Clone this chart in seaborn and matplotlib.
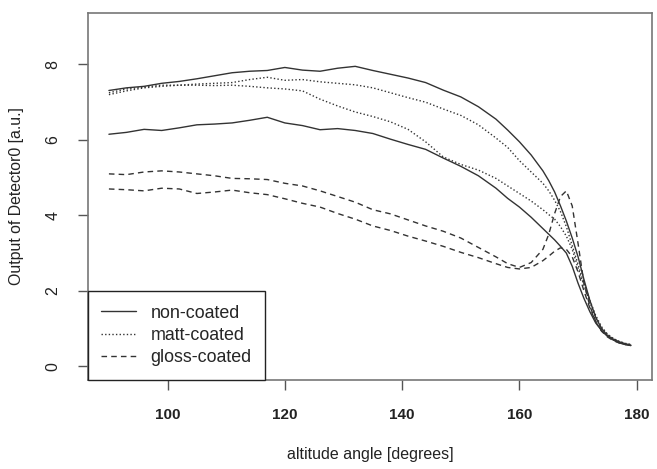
import matplotlib
matplotlib.use("Agg")
import matplotlib.pyplot as plt
from matplotlib.lines import Line2D
import seaborn as sns
import pandas as pd

angles = [90, 93, 96, 99, 102, 105, 108, 111, 114, 117, 120, 123, 126, 129, 132, 135,
          138, 141, 144, 147, 150, 153, 156, 158, 160, 162, 164, 165, 166, 167, 168,
          169, 170, 171, 172, 173, 174, 175, 176, 177, 178, 179]

non_coated_1 = [7.31, 7.38, 7.42, 7.50, 7.55, 7.62, 7.70, 7.78, 7.82, 7.84, 7.92, 7.85, 7.82, 7.90, 7.95, 7.84,
                7.74, 7.64, 7.52, 7.32, 7.14, 6.88, 6.55, 6.26, 5.95, 5.60, 5.18, 4.92, 4.62, 4.25, 3.85,
                3.40, 2.90, 2.30, 1.75, 1.30, 1.00, 0.82, 0.72, 0.65, 0.60, 0.56]
non_coated_2 = [6.15, 6.20, 6.28, 6.25, 6.32, 6.40, 6.42, 6.45, 6.52, 6.60, 6.45, 6.38, 6.27, 6.30, 6.25, 6.17,
                6.02, 5.88, 5.75, 5.52, 5.30, 5.05, 4.72, 4.45, 4.22, 3.95, 3.65, 3.50, 3.35, 3.18, 3.00,
                2.65, 2.20, 1.80, 1.45, 1.15, 0.95, 0.80, 0.70, 0.62, 0.58, 0.55]
matt_coated_1 = [7.25, 7.35, 7.40, 7.45, 7.45, 7.48, 7.50, 7.52, 7.60, 7.66, 7.58, 7.60, 7.54, 7.50, 7.46, 7.38,
                 7.25, 7.12, 7.00, 6.82, 6.65, 6.40, 6.05, 5.80, 5.45, 5.15, 4.85, 4.65, 4.40, 4.10, 3.70,
                 3.20, 2.70, 2.20, 1.75, 1.35, 1.05, 0.85, 0.73, 0.66, 0.60, 0.57]
matt_coated_2 = [7.20, 7.30, 7.38, 7.42, 7.45, 7.45, 7.44, 7.45, 7.42, 7.38, 7.35, 7.30, 7.08, 6.90, 6.74, 6.62,
                 6.48, 6.28, 5.95, 5.55, 5.35, 5.20, 4.98, 4.78, 4.58, 4.38, 4.15, 4.02, 3.90, 3.70, 3.45,
                 3.10, 2.60, 2.15, 1.70, 1.30, 1.02, 0.85, 0.74, 0.66, 0.61, 0.58]
gloss_coated_1 = [5.10, 5.08, 5.15, 5.18, 5.15, 5.10, 5.05, 4.98, 4.97, 4.95, 4.85, 4.78, 4.65, 4.50, 4.35, 4.15,
                  4.04, 3.88, 3.72, 3.58, 3.40, 3.15, 2.90, 2.72, 2.62, 2.75, 3.10, 3.50, 4.05, 4.50, 4.65,
                  4.25, 3.25, 2.20, 1.60, 1.20, 0.95, 0.80, 0.70, 0.63, 0.58, 0.55]
gloss_coated_2 = [4.70, 4.68, 4.65, 4.72, 4.70, 4.58, 4.62, 4.67, 4.60, 4.55, 4.44, 4.32, 4.22, 4.05, 3.90, 3.72,
                  3.60, 3.45, 3.32, 3.18, 3.02, 2.88, 2.72, 2.62, 2.58, 2.62, 2.80, 2.92, 3.05, 3.14, 3.10,
                  2.90, 2.50, 2.00, 1.55, 1.18, 0.93, 0.78, 0.68, 0.62, 0.58, 0.55]

legend_labels = ["non-coated", "matt-coated", "gloss-coated"]
x_ticks = [100, 120, 140, 160, 180]
y_ticks = [0, 2, 4, 6, 8]

series = [
    ("non-coated", non_coated_1, "-"),
    ("non-coated", non_coated_2, "-"),
    ("matt-coated", matt_coated_1, (0, (1, 1.6))),
    ("matt-coated", matt_coated_2, (0, (1, 1.6))),
    ("gloss-coated", gloss_coated_1, (0, (4, 3))),
    ("gloss-coated", gloss_coated_2, (0, (4, 3))),
]

sns.set_style("white")
plt.rcParams['font.family'] = ['Liberation Sans', 'DejaVu Sans']

fig = plt.figure(figsize=(6.57, 4.69), dpi=100)
ax = fig.add_axes([0.134, 0.190, 0.858, 0.782])

line_color = "#333333"
for name, vals, ls in series:
    df = pd.DataFrame({"angle": angles, "output": vals})
    sns.lineplot(data=df, x="angle", y="output", ax=ax, color=line_color,
                 linestyle=ls, linewidth=1.0, estimator=None, sort=False)

ax.set_xlim(86.44, 182.56)
ax.set_ylim(-0.36, 9.36)
ax.set_xticks(x_ticks)
ax.set_yticks(y_ticks)
ax.set_xticklabels([str(t) for t in x_ticks], fontsize=11, fontweight="bold", color="#222222")
ax.set_yticklabels([str(t) for t in y_ticks], fontsize=11.5, rotation=90, va="center", color="#222222")
ax.tick_params(axis="both", direction="out", length=7, width=1, color="#555555", left=True, bottom=True)
ax.tick_params(axis="x", pad=13)
ax.tick_params(axis="y", pad=13)

for sp in ax.spines.values():
    sp.set_color("#777777")
    sp.set_linewidth(1.2)

ax.set_xlabel("altitude angle [degrees]", fontsize=11.5, labelpad=18, color="#222222")
ax.set_ylabel("Output of Detector0 [a.u.]", fontsize=11.4, labelpad=15, color="#222222")

handles = [Line2D([0], [0], color=line_color, linestyle="-", lw=1.0),
           Line2D([0], [0], color=line_color, linestyle=(0, (1, 1.6)), lw=1.0),
           Line2D([0], [0], color=line_color, linestyle=(0, (4, 3)), lw=1.0)]
leg = ax.legend(handles, legend_labels, loc="lower left", borderaxespad=0, fancybox=False,
                edgecolor="#222222", framealpha=1, fontsize=12.9, handlelength=1.9,
                handletextpad=0.85, labelspacing=0.3, borderpad=0.75)
leg.get_frame().set_linewidth(1.0)

fig.savefig("out.png", dpi=100)
